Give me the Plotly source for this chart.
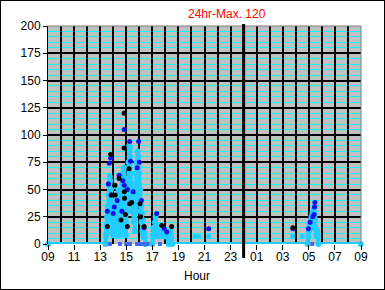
import plotly.graph_objects as go

# ---------------- data ----------------
X_HOUR_LABELS = ["09", "", "11", "", "13", "", "15", "", "17", "", "19", "", "21", "", "23", "",
                 "01", "", "03", "", "05", "", "07", "", "09"]
Y_TICKS = [0, 25, 50, 75, 100, 125, 150, 175, 200]
MIDNIGHT = "00:00"

# main light-blue reading series (time, value)
lb_times = ["09:00", "13:25",
            "13:27", "13:29", "13:30", "13:32", "13:33", "13:35", "13:36", "13:38", "13:39", "13:41", "13:42",
            "13:44", "13:45", "13:47", "13:48", "13:50", "13:51", "13:53", "13:54", "13:56", "13:57", "13:59", "14:00",
            "14:02", "14:04", "14:06", "14:08", "14:10", "14:12", "14:14", "14:16", "14:18", "14:20", "14:22", "14:24",
            "14:26", "14:28", "14:30", "14:32", "14:34", "14:36", "14:38", "14:40", "14:42", "14:44", "14:46", "14:48",
            "14:50", "14:52", "14:54", "14:56", "14:58",
            "15:00", "15:02", "15:04", "15:06", "15:08", "15:10", "15:12", "15:14", "15:16", "15:18", "15:20", "15:22",
            "15:24", "15:26", "15:28", "15:30", "15:32", "15:34", "15:36", "15:38", "15:40", "15:42", "15:44", "15:46",
            "15:48", "15:50", "15:52", "15:54", "15:56", "15:58", "16:00", "16:02", "16:04", "16:06", "16:08", "16:10",
            "16:12", "16:14", "16:16", "16:18", "16:20", "16:22", "16:24", "16:26", "16:28",
            "17:00", "17:02", "17:05", "17:08", "17:12", "17:15", "17:18", "17:20", "17:23", "17:26", "17:30", "17:35",
            "17:40", "17:45", "17:50", "17:55", "18:00", "18:05", "18:10", "18:15", "18:20", "18:24", "18:27", "18:31",
            "04:54", "04:58", "05:01", "05:04", "05:06", "05:08", "05:10", "05:12", "05:14", "05:16", "05:18", "05:20",
            "05:22", "05:24", "05:26", "05:28", "05:30", "05:32", "05:35", "05:38", "05:41", "05:44",
            "08:59"]
lb_values = [0, 0,
             8, 18, 10, 25, 15, 35, 22, 45, 30, 55, 40,
             62, 48, 58, 35, 50, 28, 40, 20, 30, 12, 22, 8,
             18, 10, 28, 15, 35, 20, 8, 25, 12, 40, 22, 50,
             30, 45, 15, 8, 28, 12, 40, 20, 55, 35, 65, 45,
             70, 50, 30, 15, 8,
             20, 45, 30, 60, 40, 75, 55, 90, 80, 88, 65, 45,
             30, 50, 35, 55, 40, 20, 45, 30, 12, 35, 50, 65,
             75, 60, 85, 70, 80, 55, 65, 40, 50, 30, 35, 20,
             28, 12, 22, 8, 15, 6, 10, 6, 0,
             0, 8, 15, 10, 20, 25, 18, 10, 7, 12, 7, 10,
             7, 12, 7, 10, 7, 8, 7, 0, 7, 12, 7, 0,
             0, 7, 12, 18, 14, 22, 16, 25, 20, 28, 22, 30,
             26, 32, 28, 34, 22, 14, 8, 12, 7, 0,
             0]

# isolated light-blue readings
lb_iso_times = ["20:16", "20:35", "21:19", "03:46", "04:30"]
lb_iso_values = [7, 7, 7, 7, 7]

# blue readings
blue_times = ["13:33", "13:38", "13:42", "13:48", "13:50", "14:00",
              "14:05", "14:18", "14:27", "14:40", "14:44", "14:50", "14:51",
              "15:05", "15:16", "15:20", "15:32", "15:50", "15:57", "16:00",
              "16:10", "16:22", "17:20", "17:55", "18:06", "21:19", "03:47",
              "04:58", "05:06", "05:18", "05:24", "05:26", "05:28"]
blue_values = [30, 55, 74, 79, 45, 28,
               34, 40, 63, 30, 58, 105, 54,
               50, 94, 76, 48, 70, 94, 75,
               40, 15, 28, 14, 11, 14, 14,
               14, 20, 25, 27, 34, 38]

# black readings
black_times = ["13:33", "13:48", "13:52", "14:08", "14:09", "14:27", "14:36", "14:50", "14:50", "14:51",
               "14:52", "14:56", "15:13", "15:16", "15:05", "15:25", "16:03", "16:06", "16:22", "17:43",
               "18:29", "03:46"]
black_values = [16, 82, 45, 54, 45, 60, 22, 120, 88, 48,
                42, 27, 69, 37, 16, 38, 37, 25, 16, 17,
                16, 15]

# zero readings in a darker blue along the baseline
base_times = ["13:45", "14:31", "15:00", "15:17", "15:50", "15:55", "16:00", "16:05", "16:10", "16:15",
              "16:20", "16:25", "16:30", "16:38", "17:35", "05:16"]
base_values = [0] * len(base_times)


def off(t):
    h, m = map(int, t.split(":"))
    return ((h * 60 + m - 540) % 1440) / 60.0


def offs(ts):
    return [off(t) for t in ts]


LB = "#22CCFF"
BLUE = "#1010E8"
MID = "#3F6BF0"

fig = go.Figure()
fig.add_trace(go.Scatter(x=offs(lb_times), y=lb_values, mode="lines+markers",
                         line=dict(color=LB, width=4), marker=dict(color=LB, size=6),
                         cliponaxis=False, hoverinfo="skip"))
fig.add_trace(go.Scatter(x=offs(lb_iso_times), y=lb_iso_values, mode="markers",
                         marker=dict(color=LB, size=5), cliponaxis=False))
fig.add_trace(go.Scatter(x=offs(base_times), y=base_values, mode="markers",
                         marker=dict(color=MID, size=4, symbol="square"), cliponaxis=False))
fig.add_trace(go.Scatter(x=offs(blue_times), y=blue_values, mode="markers",
                         marker=dict(color=BLUE, size=5), cliponaxis=False))
fig.add_trace(go.Scatter(x=offs(black_times), y=black_values, mode="markers",
                         marker=dict(color="black", size=5), cliponaxis=False))

all_vals = lb_values + lb_iso_values + blue_values + black_values
title_text = f"24hr-Max. {max(all_vals)}"

L, R, T, B = 48, 24, 26, 46
PW, PH = 385 - L - R, 290 - T - B

hour_vals = list(range(len(X_HOUR_LABELS)))

fig.update_layout(
    width=385, height=290,
    margin=dict(l=L, r=R, t=T, b=B),
    paper_bgcolor="white", plot_bgcolor="#C0C0C0",
    showlegend=False,
    font=dict(family="Liberation Sans, Arial, sans-serif", size=12, color="black"),
    xaxis=dict(range=[0, 24], tickmode="array",
               tickvals=hour_vals, ticktext=X_HOUR_LABELS,
               ticks="", ticklabelstandoff=4,
               showgrid=True, gridcolor="black", gridwidth=1.5,
               minor=dict(tickvals=[v for v in hour_vals if X_HOUR_LABELS[v]],
                          ticks="outside", ticklen=5, tickcolor="black", tickwidth=1, showgrid=False),
               zeroline=False, showline=False, fixedrange=True),
    yaxis=dict(range=[0, 200], tickmode="array", tickvals=Y_TICKS,
               ticktext=[str(v) for v in Y_TICKS],
               ticks="outside", ticklen=4, tickcolor="black", tickwidth=1,
               showgrid=True, gridcolor="black", gridwidth=2,
               minor=dict(dtick=5, tick0=0, showgrid=True, gridcolor="#00FFFF", gridwidth=1),
               zeroline=False, showline=True, linecolor="black", linewidth=1, fixedrange=True),
    annotations=[
        dict(text=title_text, x=(227 - L) / PW, y=(244 - 14) / PH, xref="paper", yref="paper",
             xanchor="center", yanchor="middle", showarrow=False,
             font=dict(color="#FF0000", size=12)),
        dict(text="Hour", x=(197 - L) / PW, y=(244 - 276) / PH, xref="paper", yref="paper",
             xanchor="center", yanchor="middle", showarrow=False, font=dict(size=12)),
    ],
    shapes=[
        dict(type="line", xref="paper", yref="paper", x0=0, x1=1, y0=1, y1=1,
             line=dict(color="#808080", width=1), layer="above"),
        dict(type="line", xref="paper", yref="paper", x0=1, x1=1, y0=0, y1=1,
             line=dict(color="#808080", width=1), layer="above"),
        dict(type="line", xref="x", yref="paper", x0=off(MIDNIGHT), x1=off(MIDNIGHT),
             y0=-14 / PH, y1=1 + 2 / PH, line=dict(color="black", width=3), layer="above"),
        dict(type="rect", xref="paper", yref="paper", x0=-L / PW, x1=1 + R / PW,
             y0=-B / PH, y1=1 + T / PH, line=dict(color="black", width=2)),
    ],
)

fig.write_html("out.html")
